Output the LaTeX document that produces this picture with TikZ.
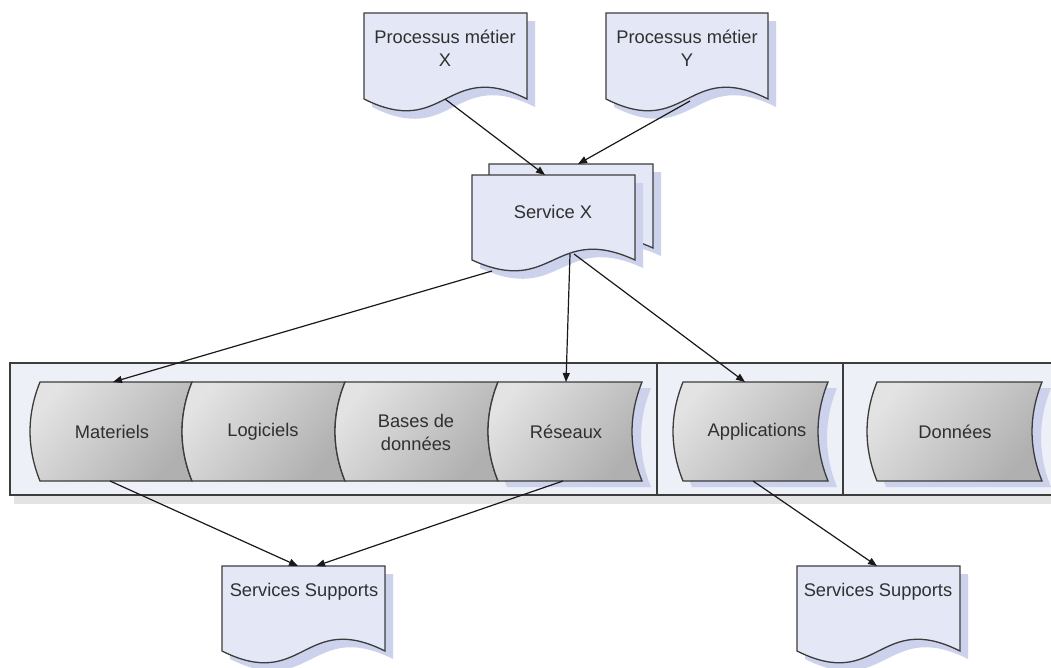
\documentclass[tikz,border=0pt]{standalone}
\usepackage{fontspec}
\setmainfont{Liberation Sans}
\usetikzlibrary{arrows.meta}
\definecolor{docfill}{HTML}{E4E8F6}
\definecolor{shadowc}{HTML}{CDD2EC}
\definecolor{panelfill}{HTML}{EEF0F8}
\definecolor{edgec}{HTML}{3C3C3C}
\definecolor{txtc}{HTML}{303030}
% document shape: x1, top, x2, yc (corner level), amplitude
\newcommand{\docshape}[5]{%
  \fill[shadowc, shift={(8,8)}] (#1,#2) -- (#3,#2) -- (#3,#4)
     .. controls ({(#1+#3)/2},{#4-3.4*#5}) and ({(#1+#3)/2},{#4+3.4*#5}) .. (#1,#4) -- cycle;
  \draw[edgec, line width=1.3pt, fill=docfill] (#1,#2) -- (#3,#2) -- (#3,#4)
     .. controls ({(#1+#3)/2},{#4-3.4*#5}) and ({(#1+#3)/2},{#4+3.4*#5}) .. (#1,#4) -- cycle;}
% stored-data shape: xl, xr, top, bottom, depth
\newcommand{\datapath}[5]{(#1,#3) -- (#2,#3)
     .. controls ({#2-1.33*#5},{#3+(#4-#3)/3}) and ({#2-1.33*#5},{#4-(#4-#3)/3}) .. (#2,#4)
     -- (#1,#4)
     .. controls ({#1-1.33*#5},{#4-(#4-#3)/3}) and ({#1-1.33*#5},{#3+(#4-#3)/3}) .. (#1,#3) -- cycle}
\newcommand{\datashadow}[5]{\fill[shadowc, shift={(9,6)}] \datapath{#1}{#2}{#3}{#4}{#5};}
\newcommand{\datashape}[5]{\draw[edgec, line width=1.3pt, top color=gray!22, bottom color=gray!62, shading angle=50] \datapath{#1}{#2}{#3}{#4}{#5};}
\tikzset{
  lbl/.style={text=txtc, font=\fontsize{18.3}{23}\selectfont, align=center, inner sep=0pt},
  conn/.style={draw=black!90, line width=1.2pt, -{Triangle[length=9pt,width=7pt]}},
  panel/.style={draw=edgec, line width=1.4pt, fill=panelfill}
}
\begin{document}
\begin{tikzpicture}[x=1pt,y=-1pt]
\useasboundingbox (0,0) rectangle (1051,667);
% ---------- panels ----------
\fill[gray!22] (14,495) rectangle (1060,504);
\draw[panel] (10,363) rectangle (657,495);
\draw[panel] (657,363) rectangle (843,495);
\draw[panel] (843,363) rectangle (1058,495);
% ---------- data shapes ----------
\datashadow{498}{642}{382}{481}{10}
\datashadow{683}{828}{382}{481}{10}
\datashadow{877}{1042}{382}{481}{10}
\datashape{40}{192}{382}{481}{10}
\datashape{192}{345}{382}{481}{10}
\datashape{345}{498}{382}{481}{10}
\datashape{498}{642}{382}{481}{10}
\datashape{683}{828}{382}{481}{10}
\datashape{877}{1042}{382}{481}{10}
\node[lbl] (mat) at (112,432) {Materiels};
\node[lbl] (log) at (263,432) {Logiciels};
\node[lbl] (bdd) at (416,432) {Bases de\\données};
\node[lbl] (res) at (566,432) {Réseaux};
\node[lbl] (app) at (757,432) {Applications};
\node[lbl] (don) at (955,432) {Données};
% ---------- documents ----------
\docshape{364}{13}{527}{99}{12}
\node[lbl] (px) at (445,48) {Processus métier\\X};
\docshape{606}{13}{768}{99}{12}
\node[lbl] (py) at (687,48) {Processus métier\\Y};
\docshape{489}{164}{653}{248}{11}
\docshape{472}{175}{635}{260}{11}
\node[lbl] (sx) at (553,212) {Service X};
\docshape{222}{566}{385}{651}{12}
\node[lbl] (ss1) at (304,592) {Services Supports};
\docshape{797}{566}{960}{651}{12}
\node[lbl] (ss2) at (878,592) {Services Supports};
% ---------- connection points ----------
\coordinate (pxb) at (445,99);
\coordinate (pyb) at (690,101);
\coordinate (sxt) at (545,175);
\coordinate (sxbt) at (578,164);
\coordinate (sxb1) at (492,271);
\coordinate (sxb2) at (570,254);
\coordinate (sxb3) at (574,254);
\coordinate (matt) at (113,382);
\coordinate (rest) at (566,382);
\coordinate (appt) at (745,382);
\coordinate (matb) at (110,481);
\coordinate (resb) at (563,481);
\coordinate (appb) at (753,481);
\coordinate (ss1a) at (298,566);
\coordinate (ss1b) at (316,566);
\coordinate (ss2t) at (877,566);
% ---------- connectors ----------
\draw[conn] (pxb) -- (sxt);
\draw[conn] (pyb) -- (sxbt);
\draw[conn] (sxb1) -- (matt);
\draw[conn] (sxb2) -- (rest);
\draw[conn] (sxb3) -- (appt);
\draw[conn] (matb) -- (ss1a);
\draw[conn] (resb) -- (ss1b);
\draw[conn] (appb) -- (ss2t);
\end{tikzpicture}
\end{document}
